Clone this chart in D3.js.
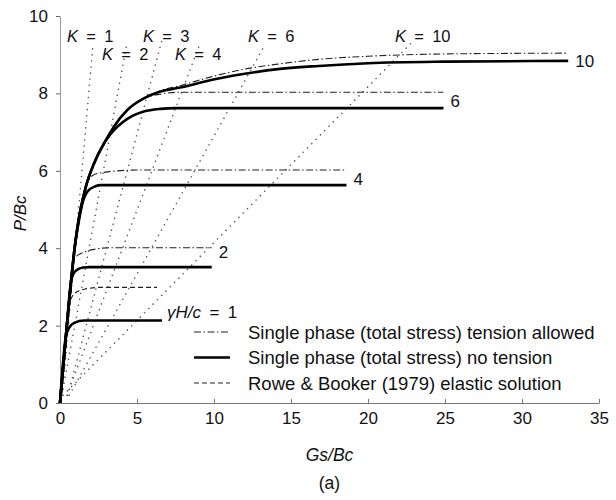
<!DOCTYPE html>
<html>
<head>
<meta charset="utf-8">
<script src="https://cdn.jsdelivr.net/npm/d3@7"></script>
<style>
  body { margin: 0; background: #fff; }
  text { font-family: "Liberation Sans", Arial, Helvetica, sans-serif; fill: #111; }
</style>
</head>
<body>
<div id="chart"></div>
<script>
// courbes : [Gs/Bc, P/Bc]
const noTension1 = [[0,0],[0.38,1.72],[0.6,1.95],[0.92,2.07],[1.57,2.13],[6.62,2.13]];
const rowe1 = [[0,0],[0.4,1.8],[0.58,2.56],[0.75,2.72],[0.92,2.82],[1.57,2.94],[2.85,2.99],[6.3,2.99]];
const noTension2 = [[0,0],[0.4,1.8],[0.72,3.15],[0.85,3.32],[1.1,3.44],[1.5,3.5],[1.9,3.51],[9.85,3.51]];
const tension2 = [[0,0],[0.4,1.8],[0.72,3.15],[0.86,3.67],[1.1,3.8],[1.46,3.88],[2.2,3.97],[3.2,4.01],[9.85,4.01]];
const noTension4 = [[0,0],[0.4,1.8],[0.72,3.15],[0.95,4.0],[1.2,4.65],[1.45,5.15],[1.8,5.47],[2.3,5.6],[2.65,5.63],[18.6,5.63]];
const tension4 = [[0,0],[0.4,1.8],[0.72,3.15],[0.95,4.0],[1.14,4.56],[1.56,5.42],[2.2,5.9],[3.29,5.98],[5,6.02],[18.6,6.02]];
const noTension6 = [[0,0],[0.4,1.8],[0.72,3.15],[0.95,4.0],[1.14,4.56],[1.68,5.59],[2.21,6.19],[2.86,6.71],[3.29,6.95],[4.37,7.34],[5.44,7.53],[6.52,7.6],[7.5,7.62],[24.9,7.62]];
const tension6 = [[0,0],[0.4,1.8],[0.72,3.15],[0.95,4.0],[1.14,4.56],[1.68,5.59],[2.21,6.19],[2.86,6.71],[3.5,7.14],[4.37,7.57],[5.44,7.87],[6.5,7.98],[7.8,8.03],[24.9,8.03]];
const noTension10 = [[0,0],[0.4,1.8],[0.72,3.15],[0.95,4.0],[1.14,4.56],[1.68,5.59],[2.21,6.19],[2.86,6.71],[3.5,7.14],[4.37,7.57],[5.44,7.87],[6.52,8.05],[7.8,8.15],[9.74,8.34],[11.9,8.5],[14,8.62],[16.8,8.71],[20,8.78],[25,8.82],[33,8.84]];
const tension10 = [[0,0],[0.4,1.8],[0.72,3.15],[0.95,4.0],[1.14,4.56],[1.68,5.59],[2.21,6.19],[2.86,6.71],[3.5,7.14],[4.37,7.57],[5.44,7.87],[6.52,8.07],[7.8,8.2],[9.74,8.42],[11.9,8.62],[14,8.75],[16.8,8.88],[20,8.96],[25,9.02],[33,9.04]];

// lignes K (pointillés)
const kValues = [1, 2, 3, 4, 6, 10];
const kStart = [[0.15,0.2],[0.12,0.2],[0.5,0.2],[0.45,0.2],[0.6,0.2],[0.2,0.2]];
const kEnd = [[2.15,9.3],[4.35,9.3],[6.6,9.35],[9.1,9.3],[13.3,9.25],[22.8,9.3]];

// étiquettes gamma H / c en bout de courbe
const gammaLabels = ["1", "2", "4", "6", "10"];

const xTicks = [0, 5, 10, 15, 20, 25, 30, 35];
const yTicks = [0, 2, 4, 6, 8, 10];

const legendLabels = [
    "Single phase (total stress) tension allowed",
    "Single phase (total stress) no tension",
    "Rowe & Booker (1979) elastic solution"
];

function drawChart() {
    const width = 616, height = 500;
    const margin = { top: 16, right: 17, bottom: 97, left: 60 };

    const svg = d3.select("#chart").append("svg")
        .attr("width", width)
        .attr("height", height);

    const xScale = d3.scaleLinear().domain([0, 35]).range([margin.left, width - margin.right]);
    const yScale = d3.scaleLinear().domain([0, 10]).range([height - margin.bottom, margin.top]);

    const line = d3.line()
        .x(d => xScale(d[0]))
        .y(d => yScale(d[1]))
        .curve(d3.curveMonotoneX);

    const styles = {
        solid: { w: 2.6, dash: null, col: "#000" },
        dashdot: { w: 1.1, dash: "7,2.5,1.5,2.5", col: "#222" },
        dashed: { w: 1.2, dash: "5,3", col: "#222" }
    };

    // axes
    const xAxis = svg.append("g")
        .attr("transform", `translate(0,${yScale(0)})`)
        .call(d3.axisBottom(xScale).tickValues(xTicks).tickSizeInner(-4).tickSizeOuter(0).tickPadding(9));
    xAxis.select(".domain").attr("stroke", "#777");
    xAxis.selectAll(".tick line").attr("stroke", "#777");
    xAxis.selectAll("text").style("font-size", "17px").attr("fill", "#111");

    const yAxis = svg.append("g")
        .attr("transform", `translate(${xScale(0)},0)`)
        .call(d3.axisLeft(yScale).tickValues(yTicks).tickSizeInner(4).tickSizeOuter(0).tickPadding(8));
    yAxis.select(".domain").attr("stroke", "#999");
    yAxis.selectAll(".tick line").attr("stroke", "#666");
    yAxis.selectAll("text").style("font-size", "17px").attr("fill", "#111");

    // lignes K
    const kg = svg.append("g");
    kValues.forEach((k, i) => {
        kg.append("path")
            .attr("d", d3.line().x(d => xScale(d[0])).y(d => yScale(d[1]))([kStart[i], kEnd[i]]))
            .attr("fill", "none")
            .attr("stroke", "#555")
            .attr("stroke-width", 1.5)
            .attr("stroke-linecap", "round")
            .attr("stroke-dasharray", "0.1,6");
    });

    // position des étiquettes K (pixels)
    const kLabelXY = [[67, 42], [102, 60], [143, 42], [175, 60], [248, 42], [395, 42]];
    kValues.forEach((k, i) => {
        const t = svg.append("text")
            .attr("x", kLabelXY[i][0])
            .attr("y", kLabelXY[i][1])
            .style("font-size", "16.5px");
        t.append("tspan").style("font-style", "italic").text("K");
        t.append("tspan").text("\u2002=\u2002" + k);
    });

    // courbes
    const series = [
        { data: rowe1, s: "dashed" },
        { data: tension2, s: "dashdot" },
        { data: tension4, s: "dashdot" },
        { data: tension6, s: "dashdot" },
        { data: tension10, s: "dashdot" },
        { data: noTension1, s: "solid" },
        { data: noTension2, s: "solid" },
        { data: noTension4, s: "solid" },
        { data: noTension6, s: "solid" },
        { data: noTension10, s: "solid" }
    ];
    svg.append("g").selectAll("path")
        .data(series)
        .enter()
        .append("path")
        .attr("d", d => line(d.data))
        .attr("fill", "none")
        .attr("stroke", d => styles[d.s].col)
        .attr("stroke-width", d => styles[d.s].w)
        .attr("stroke-dasharray", d => styles[d.s].dash);

    // étiquettes en bout de courbe
    const ends = [noTension1, noTension2, noTension4, noTension6, noTension10];
    ends.forEach((arr, i) => {
        const last = arr[arr.length - 1];
        const t = svg.append("text")
            .style("font-size", "17px");
        if (i === 0) {
            t.attr("x", xScale(last[0]) + 5).attr("y", yScale(last[1]) - 3);
            t.append("tspan").style("font-style", "italic").text("\u03b3H/c");
            t.append("tspan").text("\u2002=\u2002" + gammaLabels[i]);
        } else {
            const dy = [0, -9, 0, -1, 6][i];
            t.attr("x", xScale(last[0]) + 7).attr("y", yScale(last[1]) + dy).text(gammaLabels[i]);
        }
    });

    // légende
    const legendStyles = ["dashdot", "solid", "dashed"];
    const lg = svg.append("g");
    legendLabels.forEach((lab, i) => {
        const y = 332 + i * 25.5;
        const st = styles[legendStyles[i]];
        lg.append("line")
            .attr("x1", 194).attr("x2", 230)
            .attr("y1", y).attr("y2", y)
            .attr("stroke", st.col)
            .attr("stroke-width", st.w)
            .attr("stroke-dasharray", st.dash);
        lg.append("text")
            .attr("x", 248).attr("y", y + 6.5)
            .style("font-size", "18.5px")
            .text(lab);
    });

    // titres des axes
    svg.append("text")
        .attr("x", xScale(17.5)).attr("y", 461)
        .attr("text-anchor", "middle")
        .style("font-size", "17.5px")
        .style("font-style", "italic")
        .text("Gs/Bc");

    svg.append("text")
        .attr("transform", `translate(26,${yScale(4.9)}) rotate(-90)`)
        .attr("text-anchor", "middle")
        .style("font-size", "17px")
        .style("font-style", "italic")
        .text("P/Bc");

    svg.append("text")
        .attr("x", xScale(17.5)).attr("y", 489)
        .attr("text-anchor", "middle")
        .style("font-size", "17.5px")
        .text("(a)");
}

drawChart();
</script>
</body>
</html>
